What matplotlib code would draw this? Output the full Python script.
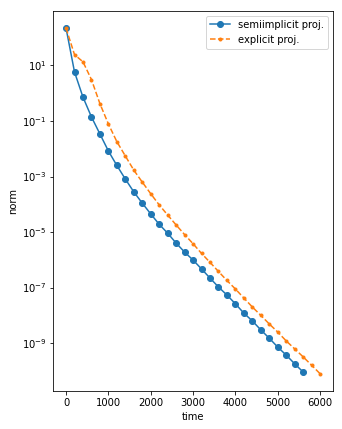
import numpy as np
import matplotlib
matplotlib.use("Agg")
import matplotlib.pyplot as plt
from matplotlib.ticker import NullLocator

# datos
t_semi = np.arange(0, 5601, 200)
norm_semi = [2.2e2, 5.8, 7.2e-1, 1.4e-1, 3.4e-2, 8.3e-3, 2.5e-3, 8.1e-4, 2.8e-4,
             1.1e-4, 4.5e-5, 1.9e-5, 9.1e-6, 4.0e-6, 1.9e-6, 9.8e-7, 4.7e-7,
             2.2e-7, 1.05e-7, 5.4e-8, 2.6e-8, 1.2e-8, 6.3e-9, 3.0e-9, 1.5e-9,
             7.2e-10, 3.7e-10, 1.8e-10, 9.1e-11]

t_expl = np.arange(0, 6001, 200)
norm_expl = [2.2e2, 2.45e1, 1.35e1, 3.1, 4.2e-1, 7.8e-2, 1.8e-2, 5.5e-3, 1.7e-3,
             6.3e-4, 2.4e-4, 9.5e-5, 4.1e-5, 1.8e-5, 8.1e-6, 3.8e-6, 1.7e-6,
             8.1e-7, 3.8e-7, 1.8e-7, 8.9e-8, 4.2e-8, 2.0e-8, 1.0e-8, 4.9e-9,
             2.5e-9, 1.2e-9, 6.2e-10, 3.2e-10, 1.6e-10, 7.9e-11]

yticks = [1e1, 1e-1, 1e-3, 1e-5, 1e-7, 1e-9]

fig = plt.figure(figsize=(342 / 72, 429 / 72), dpi=72)
ax = fig.add_axes([0.156, 0.0886, 0.817, 0.886])

ax.plot(t_semi, norm_semi, "o-", color="C0", label="semiimplicit proj.")
ax.plot(t_expl, norm_expl, ".--", color="C1", label="explicit proj.")
ax.set_yscale("log")
ax.set_yticks(yticks)
ax.yaxis.set_minor_locator(NullLocator())
ax.set_xlabel("time")
ax.set_ylabel("norm")
ax.legend(loc="upper right")

fig.savefig("out.png", dpi=72)
